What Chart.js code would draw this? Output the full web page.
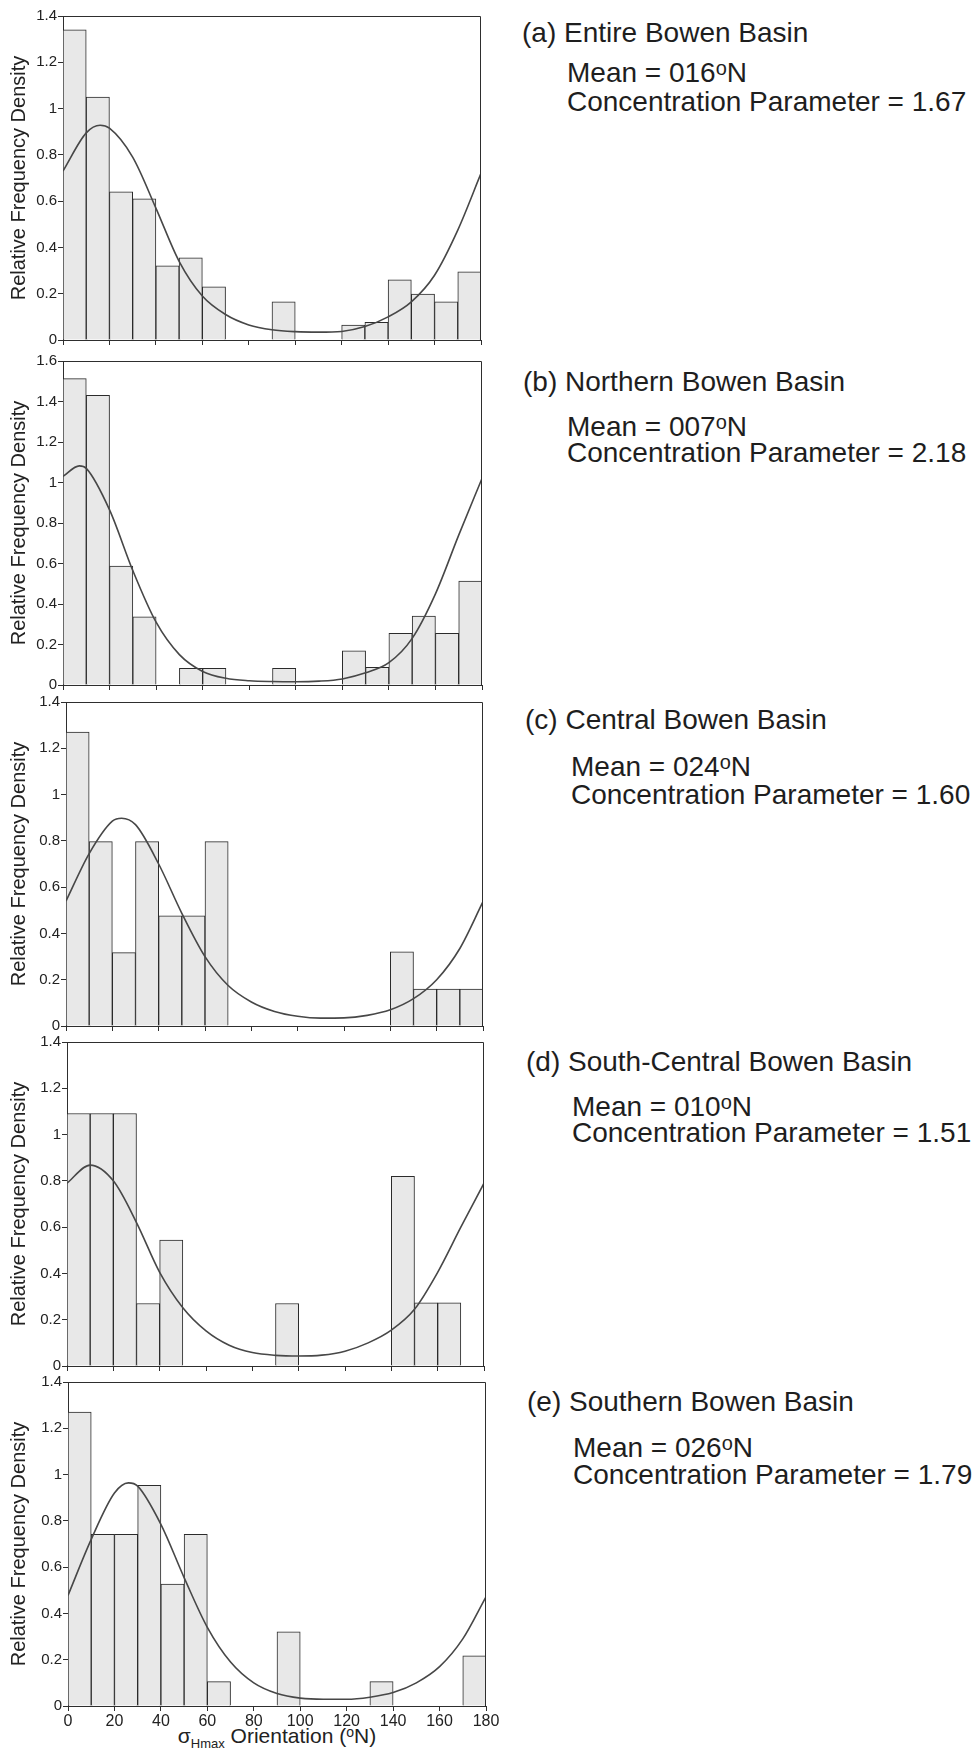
<!doctype html>
<html lang="en">

<head>
    <meta charset="UTF-8" />
    <title>Bowen Basin SHmax orientations</title>
    <script src="https://cdn.jsdelivr.net/npm/chart.js"></script>
    <style>
        body {
            margin: 0;
            background: #fff;
            width: 975px;
            height: 1751px;
            position: relative;
            overflow: hidden;
            font-family: "Liberation Sans", Arial, Helvetica, sans-serif;
            color: #1e1e1e;
        }

        canvas {
            position: absolute;
            left: 0;
        }

        .txt {
            position: absolute;
            white-space: nowrap;
            line-height: 1;
            font-size: 28px;
        }

        .sup {
            font-size: 20px;
            position: relative;
            top: -7px;
        }

        #xtitle {
            position: absolute;
            text-align: center;
            white-space: nowrap;
            line-height: 1;
            font-size: 21px;
            color: #222;
        }

        #xtitle .sub {
            font-size: 13px;
            position: relative;
            top: 5px;
        }

        #xtitle .sup2 {
            font-size: 14px;
            position: relative;
            top: -6px;
        }
    </style>
</head>

<body>
    <div id="xtitle">σ<span class="sub">Hmax</span> Orientation (<span class="sup2">o</span>N)</div>

    <script>
        // ---- data ----
        const binCentres = [5, 15, 25, 35, 45, 55, 65, 75, 85, 95, 105, 115, 125, 135, 145, 155, 165, 175];
        const xTicks = [0, 20, 40, 60, 80, 100, 120, 140, 160, 180];
        const yTicks14 = [0, 0.2, 0.4, 0.6, 0.8, 1, 1.2, 1.4];
        const yTicks16 = [0, 0.2, 0.4, 0.6, 0.8, 1, 1.2, 1.4, 1.6];

        const titles = ['(a) Entire Bowen Basin', '(b) Northern Bowen Basin', '(c) Central Bowen Basin',
            '(d) South-Central Bowen Basin', '(e) Southern Bowen Basin'];
        const meanDirs = ['016', '007', '024', '010', '026'];
        const kappas = ['1.67', '2.18', '1.60', '1.51', '1.79'];

        // histogram bars (relative frequency density per 10 degree bin)
        const densityA = [1.34, 1.05, 0.64, 0.61, 0.32, 0.355, 0.23, 0, 0, 0.165, 0, 0, 0.065, 0.076, 0.26, 0.198, 0.165, 0.295];
        const densityB = [1.513, 1.431, 0.587, 0.337, 0, 0.082, 0.082, 0, 0, 0.082, 0, 0, 0.169, 0.087, 0.255, 0.34, 0.255, 0.513];
        const densityC = [1.27, 0.797, 0.317, 0.797, 0.476, 0.476, 0.797, 0, 0, 0, 0, 0, 0, 0, 0.32, 0.159, 0.159, 0.159];
        const densityD = [1.091, 1.091, 1.091, 0.27, 0.544, 0, 0, 0, 0, 0.27, 0, 0, 0, 0, 0.82, 0.273, 0.273, 0];
        const densityE = [1.27, 0.742, 0.742, 0.954, 0.527, 0.742, 0.105, 0, 0, 0.321, 0, 0, 0, 0.105, 0, 0, 0, 0.217];

        // fitted curves
        const curveAngleA = [0, 10, 16, 20, 30, 40, 50, 60, 70, 80, 90, 100, 110, 120, 130, 140, 150, 160, 170, 180];
        const curveA = [0.73, 0.895, 0.928, 0.915, 0.79, 0.57, 0.34, 0.19, 0.11, 0.065, 0.044, 0.036, 0.034, 0.037, 0.058, 0.1, 0.165, 0.28, 0.475, 0.72];
        const curveAngleB = [0, 7, 10, 20, 30, 40, 50, 60, 70, 80, 90, 100, 110, 120, 130, 140, 150, 160, 170, 180];
        const curveB = [1.03, 1.082, 1.07, 0.865, 0.565, 0.31, 0.15, 0.067, 0.033, 0.021, 0.017, 0.016, 0.019, 0.03, 0.06, 0.11, 0.23, 0.45, 0.74, 1.02];
        const curveAngleC = [0, 10, 20, 24, 30, 40, 50, 60, 70, 80, 90, 100, 110, 120, 130, 140, 150, 160, 170, 180];
        const curveC = [0.54, 0.745, 0.885, 0.898, 0.87, 0.7, 0.487, 0.3, 0.175, 0.104, 0.063, 0.042, 0.034, 0.035, 0.046, 0.07, 0.118, 0.2, 0.335, 0.537];
        const curveAngleD = [0, 10, 20, 30, 40, 50, 60, 70, 80, 90, 100, 110, 120, 130, 140, 150, 160, 170, 180];
        const curveD = [0.79, 0.868, 0.8, 0.62, 0.405, 0.252, 0.152, 0.09, 0.058, 0.046, 0.043, 0.047, 0.064, 0.1, 0.155, 0.245, 0.405, 0.6, 0.79];
        const curveAngleE = [0, 10, 20, 26, 30, 40, 50, 60, 70, 80, 90, 100, 110, 120, 130, 140, 150, 160, 170, 180];
        const curveE = [0.478, 0.72, 0.92, 0.964, 0.95, 0.785, 0.555, 0.34, 0.19, 0.1, 0.054, 0.034, 0.029, 0.029, 0.038, 0.058, 0.1, 0.17, 0.29, 0.472];

        // ---- layout ----
        const W = 505;
        const PAD_TOP = 12;
        const AXIS = '#2e2e2e';
        const plotBoxes = [
            { top: 16, bottom: 340, left: 63, right: 481 },
            { top: 361, bottom: 685, left: 63, right: 482 },
            { top: 702, bottom: 1026, left: 66, right: 483 },
            { top: 1042, bottom: 1366, left: 67, right: 484 },
            { top: 1382, bottom: 1706, left: 68, right: 486 }
        ];
        // baselines of the caption lines on the right
        const textBoxes = [
            { x: 522, mx: 567, t: 43, m: 83, c: 112 },
            { x: 523, mx: 567, t: 392, m: 437, c: 463 },
            { x: 525, mx: 571, t: 730, m: 777, c: 805 },
            { x: 526, mx: 572, t: 1072, m: 1117, c: 1143 },
            { x: 527, mx: 573, t: 1412, m: 1458, c: 1485 }
        ];

        Chart.defaults.font.family = '"Liberation Sans", Arial, Helvetica, sans-serif';

        const framePlugin = {
            id: 'frame',
            afterDraw(chart) {
                const { ctx, chartArea: a } = chart;
                const t = Math.round(a.top) + 0.5;
                const r = Math.round(a.right) - 0.5;
                ctx.save();
                ctx.strokeStyle = AXIS;
                ctx.lineWidth = 1;
                ctx.beginPath();
                ctx.moveTo(a.left, t);
                ctx.lineTo(r, t);
                ctx.lineTo(r, a.bottom);
                ctx.stroke();
                ctx.restore();
            }
        };

        function makePanel(i, bars, curveX, curveY, yTicks, showX) {
            const box = plotBoxes[i];
            const bottomSpace = showX ? 27 : 12;
            const cv = document.createElement('canvas');
            cv.width = W;
            cv.height = (box.bottom - box.top) + PAD_TOP + bottomSpace;
            cv.style.top = (box.top - PAD_TOP) + 'px';
            document.body.appendChild(cv);

            const gridOpts = { drawOnChartArea: false, offset: false, tickLength: 5, color: AXIS, lineWidth: 1 };

            new Chart(cv, {
                type: 'bar',
                data: {
                    datasets: [{
                        type: 'line',
                        data: curveX.map((x, k) => ({ x: x, y: curveY[k] })),
                        borderColor: '#474747',
                        borderWidth: 1.6,
                        pointRadius: 0,
                        cubicInterpolationMode: 'monotone',
                        order: 0
                    }, {
                        type: 'bar',
                        data: binCentres.map((x, k) => ({ x: x, y: bars[k] })),
                        backgroundColor: '#e8e8e8',
                        borderColor: '#2b2b2b',
                        borderWidth: 1,
                        barPercentage: 1,
                        categoryPercentage: 1,
                        order: 1
                    }]
                },
                options: {
                    responsive: false,
                    animation: false,
                    layout: { padding: { top: PAD_TOP, right: W - box.right, left: 0, bottom: 0 } },
                    plugins: { legend: { display: false }, tooltip: { enabled: false } },
                    scales: {
                        x: {
                            type: 'linear',
                            min: 0,
                            max: 180,
                            offset: false,
                            afterBuildTicks: s => { s.ticks = xTicks.map(v => ({ value: v })); },
                            afterFit: s => { s.height = bottomSpace; },
                            grid: gridOpts,
                            border: { color: AXIS, width: 1 },
                            ticks: { display: showX, padding: 1, color: '#222', font: { size: 16 }, maxRotation: 0, autoSkip: false }
                        },
                        y: {
                            min: 0,
                            max: yTicks[yTicks.length - 1],
                            afterBuildTicks: s => { s.ticks = yTicks.map(v => ({ value: v })); },
                            afterFit: s => { s.width = box.left; },
                            grid: gridOpts,
                            border: { color: AXIS, width: 1 },
                            ticks: { padding: 1, color: '#222', font: { size: 15 }, callback: v => String(v) },
                            title: {
                                display: true,
                                text: 'Relative Frequency Density',
                                color: '#222',
                                font: { size: 20 },
                                padding: { top: 7, bottom: 0 }
                            }
                        }
                    }
                },
                plugins: [framePlugin]
            });
        }

        function addText(x, baseline, html) {
            const d = document.createElement('div');
            d.className = 'txt';
            d.style.left = x + 'px';
            d.style.top = (baseline - 24) + 'px';
            d.innerHTML = html;
            document.body.appendChild(d);
        }

        makePanel(0, densityA, curveAngleA, curveA, yTicks14, false);
        makePanel(1, densityB, curveAngleB, curveB, yTicks16, false);
        makePanel(2, densityC, curveAngleC, curveC, yTicks14, false);
        makePanel(3, densityD, curveAngleD, curveD, yTicks14, false);
        makePanel(4, densityE, curveAngleE, curveE, yTicks14, true);

        textBoxes.forEach((tb, i) => {
            addText(tb.x, tb.t, titles[i]);
            addText(tb.mx, tb.m, 'Mean = ' + meanDirs[i] + '<span class="sup">o</span>N');
            addText(tb.mx, tb.c, 'Concentration Parameter = ' + kappas[i]);
        });

        /* x axis title under the last panel */
        const xt = document.getElementById('xtitle');
        const lastBox = plotBoxes[4];
        xt.style.left = lastBox.left + 'px';
        xt.style.width = (lastBox.right - lastBox.left) + 'px';
        xt.style.top = (1743 - 18) + 'px';
    </script>
</body>

</html>
